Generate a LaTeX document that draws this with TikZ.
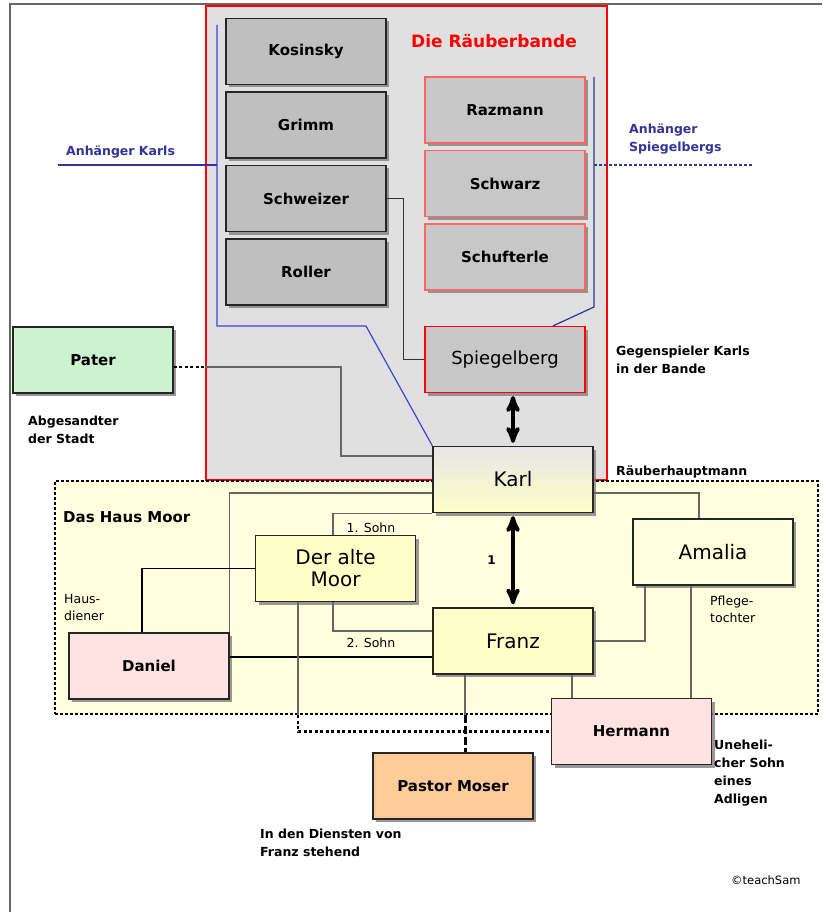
\documentclass[tikz,border=0pt]{standalone}
\usepackage{fontspec}
\setmainfont{DejaVu Sans}
\usepackage{tikz}
\usetikzlibrary{arrows,shadows}

\definecolor{gangblue}{HTML}{333399}
\definecolor{lineblue}{HTML}{4040E0}
\definecolor{hausgelb}{HTML}{FFFFDD}
\definecolor{moorgelb}{HTML}{FFFFC8}
\definecolor{rosa}{HTML}{FFE2E2}
\definecolor{patergruen}{HTML}{CCF2D0}
\definecolor{moserorange}{HTML}{FFCC99}

\begin{document}
\begin{tikzpicture}[x=1pt,y=-1pt,>=stealth',node distance=73.5pt,
  box/.style={rectangle,draw=black!85,line width=1.2pt,minimum width=160pt,minimum height=66pt,inner sep=0pt,
    drop shadow={shadow xshift=3pt,shadow yshift=-3pt,fill=black!50,opacity=0.8},
    font=\fontsize{15}{17}\selectfont\bfseries},
  gang node/.style={box,fill=black!25},
  red node/.style={box,fill=black!22,draw=red!60},
  main node/.style={box,fill=moorgelb,align=center,font=\fontsize{20}{22}\selectfont},
  pink node/.style={box,fill=rosa},
  side text/.style={anchor=west,inner sep=0pt,align=left,font=\fontsize{12.5}{18}\selectfont\bfseries},
  thin text/.style={inner sep=0pt,align=left,font=\fontsize{12.5}{17}\selectfont},
  link/.style={draw=black!60,line width=1.2pt},
  dotline/.style={line width=2.5pt,dash pattern=on 3pt off 2.5pt},
  bigarrow/.style={<->,line width=4pt,shorten <=3pt,shorten >=3pt}]

  \useasboundingbox (0,0) rectangle (822,912);
  \draw[black!60,line width=1.5pt] (10,912) -- (10,4) -- (822,4);

  % die beiden Bereiche
  \node[rectangle,draw=red,line width=2pt,fill=black!12,minimum width=401pt,minimum height=474pt] (bande) at (406.5,243) {};
  \node[rectangle,draw=black,line width=2pt,dash pattern=on 3pt off 2pt,fill=hausgelb,minimum width=763pt,minimum height=233pt] (haus) at (436.5,597.5) {};
  \node[text=red,font=\fontsize{17}{18}\selectfont\bfseries] (titel) at (494,41) {Die Räuberbande};
  \node[side text,font=\fontsize{15}{18}\selectfont\bfseries] (haustitel) at (63,517) {Das Haus Moor};

  % Räuber
  \node[gang node] (kos) at (306,51.5) {Kosinsky};
  \node[gang node] (grimm) [below of=kos] {Grimm};
  \node[gang node] (schweizer) [below of=grimm] {Schweizer};
  \node[gang node] (roller) [below of=schweizer] {Roller};
  \node[red node] (raz) at (505,110) {Razmann};
  \node[red node] (schwarz) [below of=raz] {Schwarz};
  \node[red node] (schuft) [below of=schwarz] {Schufterle};
  \node[red node,draw=red,font=\fontsize{18}{20}\selectfont] (spiegel) at (505,359.5) {Spiegelberg};
  \node[box,fill=patergruen] (pater) at (93,360) {Pater};

  % Familie
  \node[main node,top color=black!10,bottom color=moorgelb] (karl) at (513,479.5) {Karl};
  \node[main node] (moor) at (335.5,568.5) {Der alte\\Moor};
  \node[main node] (franz) at (513,641) {Franz};
  \node[main node,fill=hausgelb] (amalia) at (713,552) {Amalia};
  \node[pink node] (daniel) at (149,666) {Daniel};
  \node[pink node] (hermann) at (631.5,731.5) {Hermann};
  \node[box,fill=moserorange] (moser) at (453,786) {Pastor Moser};

  % Anhaenger
  \coordinate (karlsende) at (58,165);
  \coordinate (karlsoben) at (217,25);
  \coordinate (karlsknick) at (366,326);
  \draw[lineblue,line width=1.2pt] (karlsoben) -- (karlsoben |- karlsknick) -- (karlsknick) -- (karl.north west);
  \draw[gangblue,line width=1.5pt] (karlsende) -- (karlsende -| karlsoben);
  \coordinate (spiegeloben) at (594,77);
  \coordinate (spiegelende) at (753,165);
  \draw[gangblue,line width=1.2pt] (spiegeloben) -- (594,307) -- ([xshift=48pt]spiegel.north);
  \draw[gangblue,line width=1.5pt,densely dashed] (spiegelende -| spiegeloben) -- (spiegelende);
  \node[side text,text=gangblue] (ankarls) at (66,152) {Anhänger Karls};
  \node[side text,text=gangblue] (anspiegel) at (629,139) {Anhänger\\Spiegelbergs};

  % Verbindungen in der Bande
  \draw[link,draw=black!80] (schweizer.east) -- ++(17,0) |- (spiegel.west);
  \draw[dotline] ([yshift=-7pt]pater.east) -- ([yshift=-7pt]pater.east -| bande.west) coordinate (paterein);
  \coordinate (paterknick) at (341,456);
  \draw[link] (paterein) -| (paterknick) -- (paterknick -| karl.west);
  \draw[bigarrow] (karl.north |- spiegel.south) -- (karl.north);

  % Verbindungen im Haus Moor
  \draw[link] ([yshift=-13.5pt]karl.west) -| (daniel.north east);
  \draw[link] ([yshift=-13.5pt]karl.east) -| ([xshift=-14pt]amalia.north);
  \draw[link] (karl.south west) -| ([xshift=-2.5pt]moor.north);
  \draw[link] ([xshift=-2.5pt]moor.south) |- ([yshift=10pt]franz.west);
  \draw[bigarrow] (karl.south) -- node[left=12pt,font=\fontsize{12}{14}\selectfont\bfseries] {1} (franz.north);
  \draw[black,line width=1.2pt] (moor.west) -| ([xshift=-7pt]daniel.north);
  \draw[black,line width=1.5pt] ([yshift=9pt]daniel.east) -- ([yshift=9pt]daniel.east -| franz.west);
  \draw[link] (franz.east) -| ([xshift=-68pt]amalia.south);
  \draw[link] ([xshift=59pt]franz.south) -- ([xshift=59pt]franz.south |- hermann.north);
  \draw[link] ([xshift=-22pt]amalia.south) -- ([xshift=-22pt]amalia.south |- hermann.north);
  \draw[link] ([xshift=-37.5pt]moor.south) -- ([xshift=-37.5pt]moor.south |- haus.south) coordinate (mooraus);
  \draw[dotline] (mooraus) |- (hermann.west);
  \draw[link] ([xshift=-48pt]franz.south) -- ([xshift=-48pt]franz.south |- haus.south) coordinate (franzaus);
  \draw[line width=3pt,dash pattern=on 8pt off 3pt] (franzaus) -- (franzaus |- moser.north);

  % Beschriftungen
  \node[thin text] (sohn1) at (371,528) {1. Sohn};
  \node[thin text] (sohn2) at (371,643) {2. Sohn};
  \node[thin text,anchor=west] (hausdiener) at (64,608) {Haus-\\diener};
  \node[thin text,anchor=west] (pflege) at (710,609) {Pflege-\\tochter};
  \node[side text] (gegen) at (616,360) {Gegenspieler Karls\\in der Bande};
  \node[side text] (hauptmann) at (616,472) {Räuberhauptmann};
  \node[side text] (abgesandt) at (28,430) {Abgesandter\\der Stadt};
  \node[side text] (dienste) at (260,843) {In den Diensten von\\Franz stehend};
  \node[side text] (unehelich) at (714,773) {Uneheli-\\cher Sohn\\eines\\Adligen};
  \node[thin text,anchor=west,font=\fontsize{11.5}{14}\selectfont] (copy) at (731,880) {©teachSam};

\end{tikzpicture}
\end{document}
